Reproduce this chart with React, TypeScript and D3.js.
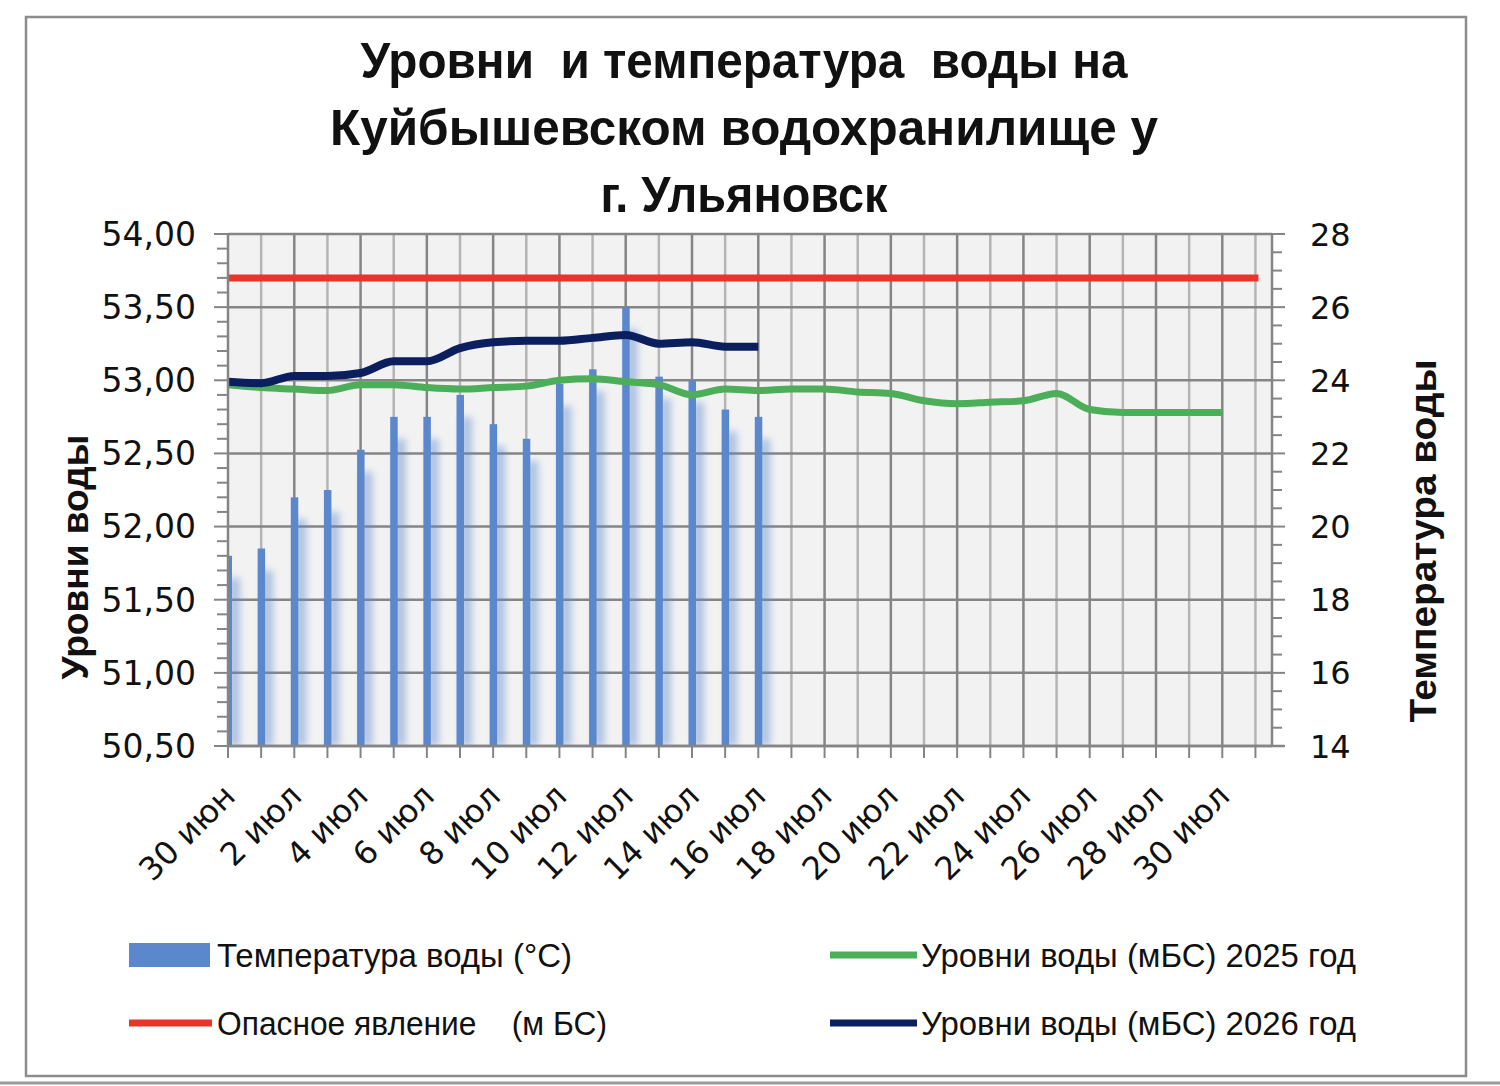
import React from "react";
import * as d3 from "d3";

// days from 30 июн (index 0) to 31 июл (index 31)
const dayLabels = [
  "30 июн", "1 июл", "2 июл", "3 июл", "4 июл", "5 июл", "6 июл", "7 июл",
  "8 июл", "9 июл", "10 июл", "11 июл", "12 июл", "13 июл", "14 июл", "15 июл",
  "16 июл", "17 июл", "18 июл", "19 июл", "20 июл", "21 июл", "22 июл", "23 июл",
  "24 июл", "25 июл", "26 июл", "27 июл", "28 июл", "29 июл", "30 июл", "31 июл",
];

// water temperature, °C (right axis)
const temperature = [
  19.2, 19.4, 20.8, 21.0, 22.1, 23.0, 23.0, 23.6, 22.8, 22.4, 23.9, 24.3, 26.0,
  24.1, 24.0, 23.2, 23.0,
];

// water level 2025, m BS
const level2025 = [
  52.97, 52.95, 52.94, 52.93, 52.97, 52.97, 52.95, 52.94, 52.95, 52.96, 53.0,
  53.01, 52.99, 52.97, 52.9, 52.94, 52.93, 52.94, 52.94, 52.92, 52.91, 52.86,
  52.84, 52.85, 52.86, 52.91, 52.8, 52.78, 52.78, 52.78, 52.78,
];

// water level 2026, m BS
const level2026 = [
  52.99, 52.98, 53.03, 53.03, 53.05, 53.13, 53.13, 53.22, 53.26, 53.27, 53.27,
  53.29, 53.31, 53.25, 53.26, 53.23, 53.23,
];

// dangerous level, m BS
const dangerLevel = dayLabels.map(() => 53.7);

const leftTicks = [50.5, 51, 51.5, 52, 52.5, 53, 53.5, 54];
const rightTicks = [14, 16, 18, 20, 22, 24, 26, 28];

const titleLines = [
  "Уровни  и температура  воды на",
  "Куйбышевском водохранилище у",
  "г. Ульяновск",
];
const titleWidths = [767, 828, 287];

const BLUE = "#5b87cd";
const GREEN = "#4cae58";
const RED = "#e8352a";
const NAVY = "#0b1f5e";

export default function App() {
  const left = 228;
  const right = 1272;
  const top = 234;
  const bottom = 746;

  const x = d3.scaleLinear().domain([0, 31.5]).range([left, right]);
  const yL = d3.scaleLinear().domain([50.5, 54]).range([bottom, top]);
  const yR = d3.scaleLinear().domain([14, 28]).range([bottom, top]);

  const line = d3
    .line<number>()
    .x((_, i) => x(i))
    .y((d) => yL(d))
    .curve(d3.curveMonotoneX);

  const fmt = (v: number) => v.toFixed(2).replace(".", ",");
  const days = d3.range(dayLabels.length);
  const leftMinor = d3.range(50.5, 54.001, 0.1);
  const rightMinor = d3.range(14, 28.001, 0.5);

  const tickFont = "DejaVu Sans, Verdana, sans-serif";
  const textFont = "Liberation Sans, Arial, sans-serif";

  return (
    <svg
      width={1500}
      height={1086}
      style={{ position: "absolute", left: 0, top: 0, background: "#fff" }}
    >
      <defs>
        <filter id="soft" x="-100%" y="-10%" width="300%" height="120%">
          <feGaussianBlur stdDeviation="3.5" />
        </filter>
        <clipPath id="plotClip">
          <rect x={left} y={top} width={right - left} height={bottom - top} />
        </clipPath>
      </defs>

      {/* frame */}
      <rect x={26} y={17} width={1440} height={1059} fill="#fff" stroke="#8c8c8c" strokeWidth={2.5} />
      <line x1={0} x2={1500} y1={1083} y2={1083} stroke="#9a9a9a" strokeWidth={3} />

      {/* title */}
      {titleLines.map((t, i) => (
        <text
          key={t}
          x={744}
          y={78 + i * 67}
          textAnchor="middle"
          fontFamily={textFont}
          fontWeight="bold"
          fontSize={50}
          textLength={titleWidths[i]}
          lengthAdjust="spacingAndGlyphs"
          fill="#111"
          style={{ whiteSpace: "pre" }}
        >
          {t}
        </text>
      ))}

      {/* plot area */}
      <rect x={left} y={top} width={right - left} height={bottom - top} fill="#f2f2f2" />

      {/* vertical gridlines */}
      {days.slice(1).map((d) => (
        <line
          key={"v" + d}
          x1={x(d)}
          x2={x(d)}
          y1={top}
          y2={bottom}
          stroke={d % 2 === 0 ? "#858585" : "#b5b5b5"}
          strokeWidth={2.5}
        />
      ))}
      {/* horizontal gridlines */}
      {leftTicks.map((v) => (
        <line key={"h" + v} x1={left} x2={right} y1={yL(v)} y2={yL(v)} stroke="#858585" strokeWidth={2.5} />
      ))}

      {/* temperature bars */}
      <g clipPath="url(#plotClip)">
        {temperature.map((t, i) => {
          const cx = x(i);
          const yt = yR(t);
          return (
            <g key={"b" + i}>
              <rect
                x={cx + 1}
                y={yt + 22}
                width={11}
                height={bottom - yt - 22}
                fill={BLUE}
                opacity={0.45}
                filter="url(#soft)"
              />
              <rect x={cx - 3.5} y={yt} width={7.5} height={bottom - yt} fill={BLUE} />
            </g>
          );
        })}
      </g>

      {/* lines */}
      <path
        d={`M${x(0)},${yL(dangerLevel[0])}H${x(dangerLevel.length - 1) + 3}`}
        stroke={RED}
        strokeWidth={7}
        fill="none"
      />
      <path d={line(level2025) || ""} stroke={GREEN} strokeWidth={7} fill="none" />
      <path d={line(level2026) || ""} stroke={NAVY} strokeWidth={8} fill="none" />

      {/* left axis */}
      <line x1={left} x2={left} y1={top} y2={bottom} stroke="#858585" strokeWidth={2.5} />
      {leftMinor.map((v, i) => (
        <line
          key={"lm" + i}
          x1={i % 5 === 0 ? left - 14 : left - 11}
          x2={left}
          y1={yL(v)}
          y2={yL(v)}
          stroke="#858585"
          strokeWidth={2}
        />
      ))}
      {leftTicks.map((v) => (
        <text
          key={"lt" + v}
          x={196}
          y={yL(v)}
          dy="0.36em"
          textAnchor="end"
          fontFamily={tickFont}
          fontSize={33}
          fill="#111"
        >
          {fmt(v)}
        </text>
      ))}

      {/* right axis */}
      <line x1={right} x2={right} y1={top} y2={bottom} stroke="#858585" strokeWidth={2.5} />
      {rightMinor.map((v, i) => (
        <line
          key={"rm" + i}
          x1={right}
          x2={i % 4 === 0 ? right + 13 : right + 10}
          y1={yR(v)}
          y2={yR(v)}
          stroke="#858585"
          strokeWidth={2}
        />
      ))}
      {rightTicks.map((v) => (
        <text
          key={"rt" + v}
          x={1310}
          y={yR(v)}
          dy="0.36em"
          fontFamily={tickFont}
          fontSize={32}
          fill="#111"
        >
          {v}
        </text>
      ))}

      {/* bottom axis */}
      <line x1={left} x2={right + 12} y1={bottom} y2={bottom} stroke="#858585" strokeWidth={2.5} />
      {days.map((d) => (
        <line key={"xt" + d} x1={x(d)} x2={x(d)} y1={bottom} y2={bottom + 12} stroke="#858585" strokeWidth={2} />
      ))}
      {days
        .filter((d) => d % 2 === 0)
        .map((d) => (
          <text
            key={"xl" + d}
            transform={`translate(${x(d) + 1},${790}) rotate(-45)`}
            textAnchor="end"
            dy="0.36em"
            fontFamily={tickFont}
            fontSize={32}
            fill="#111"
          >
            {dayLabels[d]}
          </text>
        ))}

      {/* axis titles */}
      <text
        transform="translate(88,557) rotate(-90)"
        textAnchor="middle"
        fontFamily={textFont}
        fontWeight="bold"
        fontSize={36}
        textLength={245}
        lengthAdjust="spacingAndGlyphs"
        fill="#111"
      >
        Уровни воды
      </text>
      <text
        transform="translate(1436,541) rotate(-90)"
        textAnchor="middle"
        fontFamily={textFont}
        fontWeight="bold"
        fontSize={36}
        textLength={363}
        lengthAdjust="spacingAndGlyphs"
        fill="#111"
      >
        Температура воды
      </text>

      {/* legend */}
      <rect x={129} y={943} width={81} height={24} fill={BLUE} />
      <text x={217} y={955} dy="0.36em" fontFamily={textFont} fontSize={33} textLength={355} lengthAdjust="spacingAndGlyphs" fill="#111">
        Температура воды (°С)
      </text>
      <line x1={830} x2={917} y1={955} y2={955} stroke={GREEN} strokeWidth={7} />
      <text x={921} y={955} dy="0.36em" fontFamily={textFont} fontSize={33} textLength={435} lengthAdjust="spacingAndGlyphs" fill="#111">
        Уровни воды (мБС) 2025 год
      </text>
      <line x1={129} x2={212} y1={1023} y2={1023} stroke={RED} strokeWidth={7} />
      <text x={217} y={1023} dy="0.36em" fontFamily={textFont} fontSize={33} textLength={390} lengthAdjust="spacingAndGlyphs" fill="#111" style={{ whiteSpace: "pre" }}>
        {"Опасное явление    (м БС)"}
      </text>
      <line x1={830} x2={917} y1={1023} y2={1023} stroke={NAVY} strokeWidth={7} />
      <text x={921} y={1023} dy="0.36em" fontFamily={textFont} fontSize={33} textLength={435} lengthAdjust="spacingAndGlyphs" fill="#111">
        Уровни воды (мБС) 2026 год
      </text>
    </svg>
  );
}
